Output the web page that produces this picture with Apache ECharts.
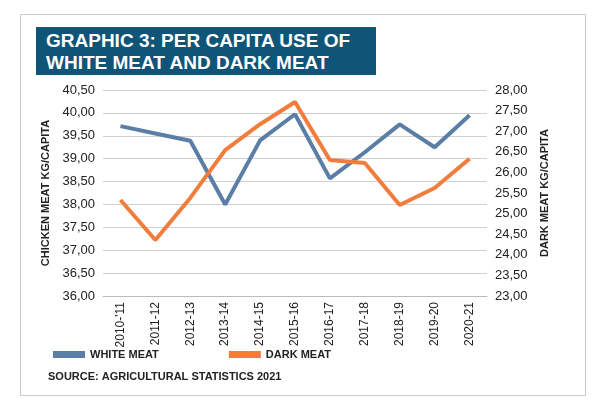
<!DOCTYPE html>
<html><head><meta charset="utf-8">
<script src="https://cdn.jsdelivr.net/npm/echarts@6/dist/echarts.min.js"></script>
<style>
body{margin:0;background:#fff;}
#frame{position:absolute;left:20px;top:14px;width:564px;height:380px;border:1px solid #ccc;}
#title{position:absolute;left:36px;top:27px;width:340px;height:48px;background:#0f5577;color:#fff;font:bold 19px "Liberation Sans",Arial,sans-serif;line-height:22px;padding:3px 0 0 10px;box-sizing:border-box;}
#main{position:absolute;left:0;top:0;width:600px;height:414px;}
</style></head><body>
<div id="frame"></div>
<div id="main"></div>
<div id="title">GRAPHIC 3: PER CAPITA USE OF<br>WHITE MEAT AND DARK MEAT</div>
<script>
var years = ['2010-\'11','2011-12','2012-13','2013-14','2014-15','2015-16','2016-17','2017-18','2018-19','2019-20','2020-21'];
var whiteMeat = [39.71, 39.55, 39.39, 38.0, 39.4, 39.97, 38.57, 39.14, 39.75, 39.25, 39.95];
var darkMeat = [25.33, 24.36, 25.38, 26.54, 27.17, 27.71, 26.3, 26.23, 25.21, 25.62, 26.33];
var fmt = function(v) { return v.toFixed(2).replace('.', ','); };
var font = '"Liberation Sans", Arial, sans-serif';
var chart = echarts.init(document.getElementById('main'));
chart.setOption({
    animation: false,
    textStyle: { fontFamily: font },
    grid: { left: 103, right: 113, top: 90, bottom: 118 },
    legend: {
        left: 48, top: 344, itemWidth: 32, itemHeight: 7, itemGap: 70,
        icon: 'rect',
        textStyle: { fontSize: 11, fontWeight: 'bold', color: '#222' },
        data: ['WHITE MEAT', 'DARK MEAT']
    },
    graphic: [{
        type: 'text', left: 48, top: 371,
        style: { text: 'SOURCE: AGRICULTURAL STATISTICS 2021', font: 'bold 11px ' + font, fill: '#222' }
    }],
    xAxis: {
        type: 'category', data: years, boundaryGap: true,
        axisLine: { lineStyle: { color: '#bbb' } },
        axisTick: { show: false },
        axisLabel: { rotate: 90, color: '#222', fontSize: 12, margin: 6 }
    },
    yAxis: [{
        type: 'value', min: 36, max: 40.5, interval: 0.5,
        name: 'CHICKEN MEAT KG/CAPITA', nameLocation: 'middle', nameGap: 50,
        nameTextStyle: { fontSize: 11, fontWeight: 'bold', color: '#222' },
        axisLabel: { formatter: fmt, color: '#222', fontSize: 13 },
        splitLine: { lineStyle: { color: '#d0d0d0' } }
    }, {
        type: 'value', min: 23, max: 28, interval: 0.5,
        name: 'DARK MEAT KG/CAPITA', nameLocation: 'middle', nameGap: 52, nameRotate: 90,
        nameTextStyle: { fontSize: 11, fontWeight: 'bold', color: '#222' },
        axisLabel: { formatter: fmt, color: '#222', fontSize: 13 },
        splitLine: { show: false }
    }],
    series: [{
        name: 'WHITE MEAT', type: 'line', data: whiteMeat, yAxisIndex: 0,
        showSymbol: false, lineStyle: { width: 4, color: '#5a7ea5' }, itemStyle: { color: '#5a7ea5' }
    }, {
        name: 'DARK MEAT', type: 'line', data: darkMeat, yAxisIndex: 1,
        showSymbol: false, lineStyle: { width: 4, color: '#f07d3c' }, itemStyle: { color: '#f07d3c' }
    }]
});
</script>
</body></html>
